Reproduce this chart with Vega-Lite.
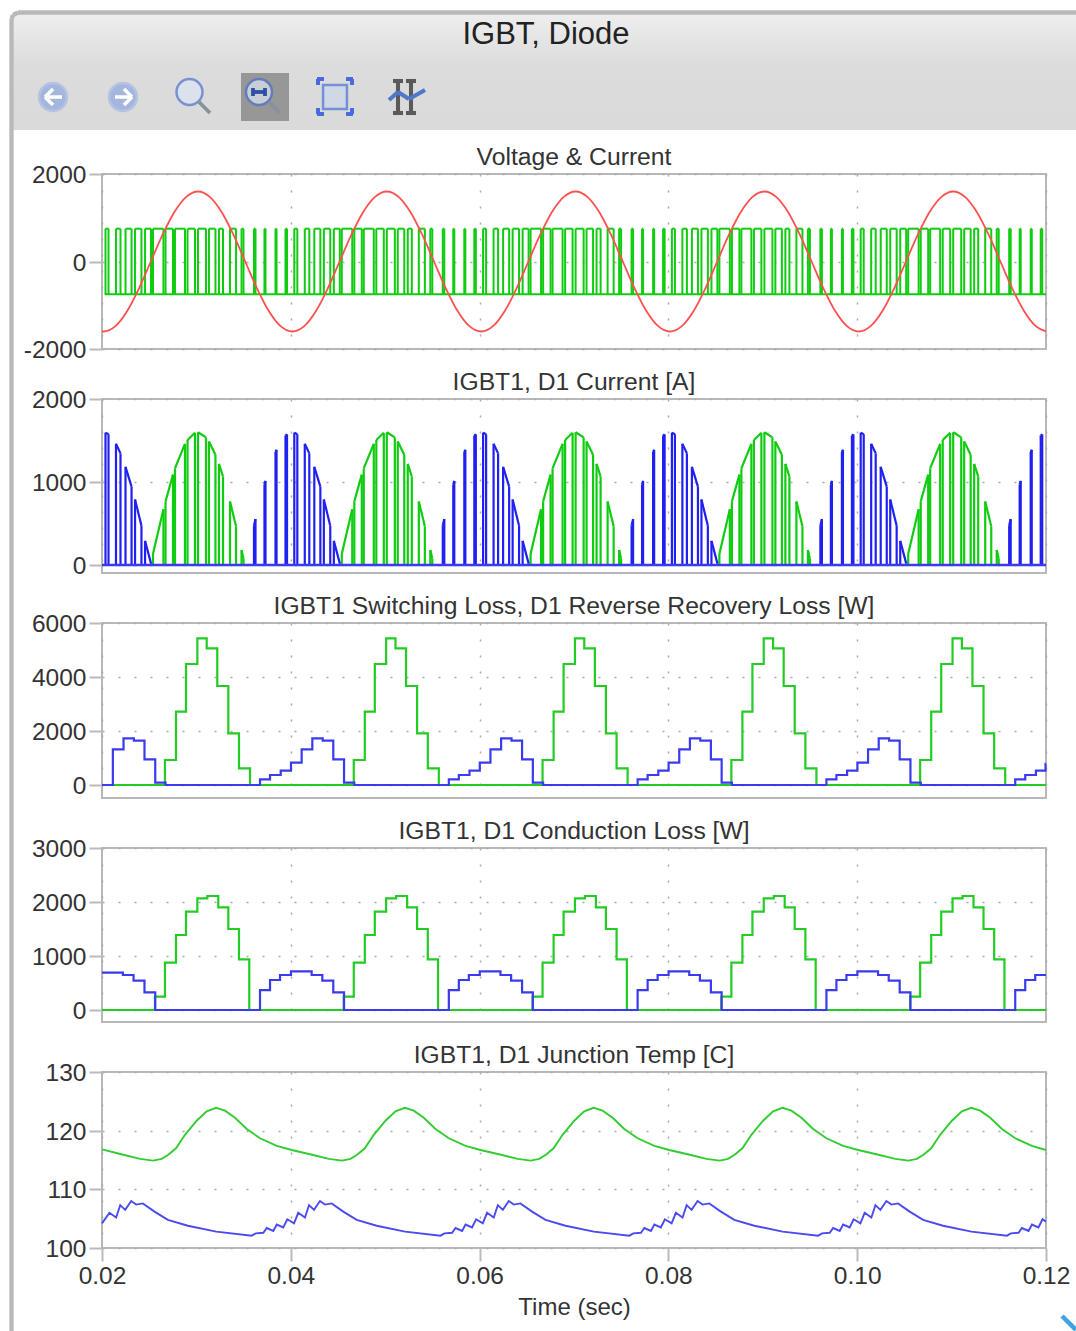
{
"$schema":"https://vega.github.io/schema/vega-lite/v6.json",
"background":"white",
"padding":{"left":9,"top":10,"right":0,"bottom":0},
"bounds":"flush",
"spacing":50,
"resolve":{"scale":{"color":"independent"}},
"config":{
 "font":"Liberation Sans",
 "view":{"stroke":"#b8b8b8","strokeWidth":2},
 "title":{"fontSize":24.7,"fontWeight":"normal","color":"#333333","anchor":"middle","offset":-7,"font":"Liberation Sans"},
 "axis":{"grid":true,"gridColor":"#aaaaaa","gridDash":[2,14],"gridWidth":1.5,"domain":false,"tickColor":"#bbbbbb","tickWidth":2,"tickSize":13,"labelFontSize":24.5,"labelColor":"#333333","labelFont":"Liberation Sans","titleFontSize":24,"titleFontWeight":"normal","titleColor":"#333333","titleFont":"Liberation Sans","labelPadding":3},
 "axisY":{"labelOffset":1.5}
},
"datasets":{
"pulses":[
{"a":0.02037,"b":0.02069,"u":1595,"w":1576,"s":"D","l":-750,"h":750,"z":0},{"a":0.02148,"b":0.02196,"u":1460,"w":1345,"s":"D","l":-750,"h":750,"z":0},{"a":0.02249,"b":0.02313,"u":1183,"w":945,"s":"D","l":-750,"h":750,"z":0},{"a":0.0235,"b":0.02418,"u":789,"w":473,"s":"D","l":-750,"h":750,"z":0},{"a":0.02456,"b":0.02519,"u":291,"w":20,"s":"D","l":-750,"h":750,"z":0},
{"a":0.0254,"b":0.02651,"u":133,"w":671,"s":"I","l":-750,"h":750,"z":0},{"a":0.02673,"b":0.02752,"u":766,"w":1089,"s":"I","l":-750,"h":750,"z":0},{"a":0.02773,"b":0.02879,"u":1164,"w":1460,"s":"I","l":-750,"h":750,"z":0},{"a":0.02906,"b":0.02985,"u":1507,"w":1593,"s":"I","l":-750,"h":750,"z":0},{"a":0.03017,"b":0.03102,"u":1600,"w":1537,"s":"I","l":-750,"h":750,"z":0},{"a":0.03133,"b":0.03202,"u":1489,"w":1329,"s":"I","l":-750,"h":750,"z":0},{"a":0.03239,"b":0.03282,"u":1218,"w":1066,"s":"I","l":-750,"h":750,"z":0},{"a":0.03356,"b":0.0342,"u":765,"w":466,"s":"I","l":-750,"h":750,"z":0},{"a":0.03478,"b":0.03499,"u":181,"w":75,"s":"I","l":-750,"h":750,"z":0},
{"a":0.0361,"b":0.03626,"u":477,"w":553,"s":"D","l":-750,"h":750,"z":0},{"a":0.03721,"b":0.03732,"u":971,"w":1013,"s":"D","l":-750,"h":750,"z":0},{"a":0.03838,"b":0.03849,"u":1362,"w":1388,"s":"D","l":-750,"h":750,"z":0},{"a":0.03944,"b":0.0396,"u":1562,"w":1574,"s":"D","l":-750,"h":750,"z":0},
{"a":0.04037,"b":0.04069,"u":1595,"w":1576,"s":"D","l":-750,"h":750,"z":0},{"a":0.04148,"b":0.04196,"u":1460,"w":1345,"s":"D","l":-750,"h":750,"z":0},{"a":0.04249,"b":0.04313,"u":1183,"w":945,"s":"D","l":-750,"h":750,"z":0},{"a":0.0435,"b":0.04418,"u":789,"w":473,"s":"D","l":-750,"h":750,"z":0},{"a":0.04456,"b":0.04519,"u":291,"w":20,"s":"D","l":-750,"h":750,"z":0},
{"a":0.0454,"b":0.04651,"u":133,"w":671,"s":"I","l":-750,"h":750,"z":0},{"a":0.04673,"b":0.04752,"u":766,"w":1089,"s":"I","l":-750,"h":750,"z":0},{"a":0.04773,"b":0.04879,"u":1164,"w":1460,"s":"I","l":-750,"h":750,"z":0},{"a":0.04906,"b":0.04985,"u":1507,"w":1593,"s":"I","l":-750,"h":750,"z":0},{"a":0.05017,"b":0.05102,"u":1600,"w":1537,"s":"I","l":-750,"h":750,"z":0},{"a":0.05133,"b":0.05202,"u":1489,"w":1329,"s":"I","l":-750,"h":750,"z":0},{"a":0.05239,"b":0.05282,"u":1218,"w":1066,"s":"I","l":-750,"h":750,"z":0},{"a":0.05356,"b":0.0542,"u":765,"w":466,"s":"I","l":-750,"h":750,"z":0},{"a":0.05478,"b":0.05499,"u":181,"w":75,"s":"I","l":-750,"h":750,"z":0},
{"a":0.0561,"b":0.05626,"u":477,"w":553,"s":"D","l":-750,"h":750,"z":0},{"a":0.05721,"b":0.05732,"u":971,"w":1013,"s":"D","l":-750,"h":750,"z":0},{"a":0.05838,"b":0.05849,"u":1362,"w":1388,"s":"D","l":-750,"h":750,"z":0},{"a":0.05944,"b":0.0596,"u":1562,"w":1574,"s":"D","l":-750,"h":750,"z":0},
{"a":0.06037,"b":0.06069,"u":1595,"w":1576,"s":"D","l":-750,"h":750,"z":0},{"a":0.06148,"b":0.06196,"u":1460,"w":1345,"s":"D","l":-750,"h":750,"z":0},{"a":0.06249,"b":0.06313,"u":1183,"w":945,"s":"D","l":-750,"h":750,"z":0},{"a":0.0635,"b":0.06418,"u":789,"w":473,"s":"D","l":-750,"h":750,"z":0},{"a":0.06456,"b":0.06519,"u":291,"w":20,"s":"D","l":-750,"h":750,"z":0},
{"a":0.0654,"b":0.06651,"u":133,"w":671,"s":"I","l":-750,"h":750,"z":0},{"a":0.06673,"b":0.06752,"u":766,"w":1089,"s":"I","l":-750,"h":750,"z":0},{"a":0.06773,"b":0.06879,"u":1164,"w":1460,"s":"I","l":-750,"h":750,"z":0},{"a":0.06906,"b":0.06985,"u":1507,"w":1593,"s":"I","l":-750,"h":750,"z":0},{"a":0.07017,"b":0.07102,"u":1600,"w":1537,"s":"I","l":-750,"h":750,"z":0},{"a":0.07133,"b":0.07202,"u":1489,"w":1329,"s":"I","l":-750,"h":750,"z":0},{"a":0.07239,"b":0.07282,"u":1218,"w":1066,"s":"I","l":-750,"h":750,"z":0},{"a":0.07356,"b":0.0742,"u":765,"w":466,"s":"I","l":-750,"h":750,"z":0},{"a":0.07478,"b":0.07499,"u":181,"w":75,"s":"I","l":-750,"h":750,"z":0},
{"a":0.0761,"b":0.07626,"u":477,"w":553,"s":"D","l":-750,"h":750,"z":0},{"a":0.07721,"b":0.07732,"u":971,"w":1013,"s":"D","l":-750,"h":750,"z":0},{"a":0.07838,"b":0.07849,"u":1362,"w":1388,"s":"D","l":-750,"h":750,"z":0},{"a":0.07944,"b":0.0796,"u":1562,"w":1574,"s":"D","l":-750,"h":750,"z":0},
{"a":0.08037,"b":0.08069,"u":1595,"w":1576,"s":"D","l":-750,"h":750,"z":0},{"a":0.08148,"b":0.08196,"u":1460,"w":1345,"s":"D","l":-750,"h":750,"z":0},{"a":0.08249,"b":0.08313,"u":1183,"w":945,"s":"D","l":-750,"h":750,"z":0},{"a":0.0835,"b":0.08418,"u":789,"w":473,"s":"D","l":-750,"h":750,"z":0},{"a":0.08456,"b":0.08519,"u":291,"w":20,"s":"D","l":-750,"h":750,"z":0},
{"a":0.0854,"b":0.08651,"u":133,"w":671,"s":"I","l":-750,"h":750,"z":0},{"a":0.08673,"b":0.08752,"u":766,"w":1089,"s":"I","l":-750,"h":750,"z":0},{"a":0.08773,"b":0.08879,"u":1164,"w":1460,"s":"I","l":-750,"h":750,"z":0},{"a":0.08906,"b":0.08985,"u":1507,"w":1593,"s":"I","l":-750,"h":750,"z":0},{"a":0.09017,"b":0.09102,"u":1600,"w":1537,"s":"I","l":-750,"h":750,"z":0},{"a":0.09133,"b":0.09202,"u":1489,"w":1329,"s":"I","l":-750,"h":750,"z":0},{"a":0.09239,"b":0.09282,"u":1218,"w":1066,"s":"I","l":-750,"h":750,"z":0},{"a":0.09356,"b":0.0942,"u":765,"w":466,"s":"I","l":-750,"h":750,"z":0},{"a":0.09478,"b":0.09499,"u":181,"w":75,"s":"I","l":-750,"h":750,"z":0},
{"a":0.0961,"b":0.09626,"u":477,"w":553,"s":"D","l":-750,"h":750,"z":0},{"a":0.09721,"b":0.09732,"u":971,"w":1013,"s":"D","l":-750,"h":750,"z":0},{"a":0.09838,"b":0.09849,"u":1362,"w":1388,"s":"D","l":-750,"h":750,"z":0},{"a":0.09944,"b":0.0996,"u":1562,"w":1574,"s":"D","l":-750,"h":750,"z":0},
{"a":0.10037,"b":0.10069,"u":1595,"w":1576,"s":"D","l":-750,"h":750,"z":0},{"a":0.10148,"b":0.10196,"u":1460,"w":1345,"s":"D","l":-750,"h":750,"z":0},{"a":0.10249,"b":0.10313,"u":1183,"w":945,"s":"D","l":-750,"h":750,"z":0},{"a":0.1035,"b":0.10418,"u":789,"w":473,"s":"D","l":-750,"h":750,"z":0},{"a":0.10456,"b":0.10519,"u":291,"w":20,"s":"D","l":-750,"h":750,"z":0},
{"a":0.1054,"b":0.10651,"u":133,"w":671,"s":"I","l":-750,"h":750,"z":0},{"a":0.10673,"b":0.10752,"u":766,"w":1089,"s":"I","l":-750,"h":750,"z":0},{"a":0.10773,"b":0.10879,"u":1164,"w":1460,"s":"I","l":-750,"h":750,"z":0},{"a":0.10906,"b":0.10985,"u":1507,"w":1593,"s":"I","l":-750,"h":750,"z":0},{"a":0.11017,"b":0.11102,"u":1600,"w":1537,"s":"I","l":-750,"h":750,"z":0},{"a":0.11133,"b":0.11202,"u":1489,"w":1329,"s":"I","l":-750,"h":750,"z":0},{"a":0.11239,"b":0.11282,"u":1218,"w":1066,"s":"I","l":-750,"h":750,"z":0},{"a":0.11356,"b":0.1142,"u":765,"w":466,"s":"I","l":-750,"h":750,"z":0},{"a":0.11478,"b":0.11499,"u":181,"w":75,"s":"I","l":-750,"h":750,"z":0},
{"a":0.1161,"b":0.11626,"u":477,"w":553,"s":"D","l":-750,"h":750,"z":0},{"a":0.11721,"b":0.11732,"u":971,"w":1013,"s":"D","l":-750,"h":750,"z":0},{"a":0.11838,"b":0.11849,"u":1362,"w":1388,"s":"D","l":-750,"h":750,"z":0},{"a":0.11944,"b":0.1196,"u":1562,"w":1574,"s":"D","l":-750,"h":750,"z":0}
],
"current":[
{"t":0.02,"v":-1598},{"t":0.02017,"v":-1600},{"t":0.02142,"v":-1478},{"t":0.02267,"v":-1131},{"t":0.02392,"v":-612},{"t":0.02517,"v":0},{"t":0.02642,"v":612},{"t":0.02767,"v":1131},{"t":0.02892,"v":1478},{"t":0.03017,"v":1600},{"t":0.03142,"v":1478},{"t":0.03267,"v":1131},{"t":0.03392,"v":612},{"t":0.03517,"v":0},{"t":0.03642,"v":-612},{"t":0.03767,"v":-1131},{"t":0.03892,"v":-1478},
{"t":0.04017,"v":-1600},{"t":0.04142,"v":-1478},{"t":0.04267,"v":-1131},{"t":0.04392,"v":-612},{"t":0.04517,"v":0},{"t":0.04642,"v":612},{"t":0.04767,"v":1131},{"t":0.04892,"v":1478},{"t":0.05017,"v":1600},{"t":0.05142,"v":1478},{"t":0.05267,"v":1131},{"t":0.05392,"v":612},{"t":0.05517,"v":0},{"t":0.05642,"v":-612},{"t":0.05767,"v":-1131},{"t":0.05892,"v":-1478},
{"t":0.06017,"v":-1600},{"t":0.06142,"v":-1478},{"t":0.06267,"v":-1131},{"t":0.06392,"v":-612},{"t":0.06517,"v":0},{"t":0.06642,"v":612},{"t":0.06767,"v":1131},{"t":0.06892,"v":1478},{"t":0.07017,"v":1600},{"t":0.07142,"v":1478},{"t":0.07267,"v":1131},{"t":0.07392,"v":612},{"t":0.07517,"v":0},{"t":0.07642,"v":-612},{"t":0.07767,"v":-1131},{"t":0.07892,"v":-1478},
{"t":0.08017,"v":-1600},{"t":0.08142,"v":-1478},{"t":0.08267,"v":-1131},{"t":0.08392,"v":-612},{"t":0.08517,"v":0},{"t":0.08642,"v":612},{"t":0.08767,"v":1131},{"t":0.08892,"v":1478},{"t":0.09017,"v":1600},{"t":0.09142,"v":1478},{"t":0.09267,"v":1131},{"t":0.09392,"v":612},{"t":0.09517,"v":0},{"t":0.09642,"v":-612},{"t":0.09767,"v":-1131},{"t":0.09892,"v":-1478},
{"t":0.10017,"v":-1600},{"t":0.10142,"v":-1478},{"t":0.10267,"v":-1131},{"t":0.10392,"v":-612},{"t":0.10517,"v":0},{"t":0.10642,"v":612},{"t":0.10767,"v":1131},{"t":0.10892,"v":1478},{"t":0.11017,"v":1600},{"t":0.11142,"v":1478},{"t":0.11267,"v":1131},{"t":0.11392,"v":612},{"t":0.11517,"v":0},{"t":0.11642,"v":-612},{"t":0.11767,"v":-1131},{"t":0.11892,"v":-1478},{"t":0.12,"v":-1598}
],
"switching":[
{"t":0.02,"v":0,"s":"I"},{"t":0.02667,"v":926,"s":"I"},{"t":0.02784,"v":2716,"s":"I"},{"t":0.0289,"v":4481,"s":"I"},{"t":0.0301,"v":5432,"s":"I"},{"t":0.03109,"v":5062,"s":"I"},{"t":0.03221,"v":3667,"s":"I"},{"t":0.03338,"v":1914,"s":"I"},{"t":0.03451,"v":617,"s":"I"},{"t":0.03568,"v":0,"s":"I"},
{"t":0.04667,"v":926,"s":"I"},{"t":0.04784,"v":2716,"s":"I"},{"t":0.0489,"v":4481,"s":"I"},{"t":0.0501,"v":5432,"s":"I"},{"t":0.05109,"v":5062,"s":"I"},{"t":0.05221,"v":3667,"s":"I"},{"t":0.05338,"v":1914,"s":"I"},{"t":0.05451,"v":617,"s":"I"},{"t":0.05568,"v":0,"s":"I"},
{"t":0.06667,"v":926,"s":"I"},{"t":0.06784,"v":2716,"s":"I"},{"t":0.0689,"v":4481,"s":"I"},{"t":0.0701,"v":5432,"s":"I"},{"t":0.07109,"v":5062,"s":"I"},{"t":0.07221,"v":3667,"s":"I"},{"t":0.07338,"v":1914,"s":"I"},{"t":0.07451,"v":617,"s":"I"},{"t":0.07568,"v":0,"s":"I"},
{"t":0.08667,"v":926,"s":"I"},{"t":0.08784,"v":2716,"s":"I"},{"t":0.0889,"v":4481,"s":"I"},{"t":0.0901,"v":5432,"s":"I"},{"t":0.09109,"v":5062,"s":"I"},{"t":0.09221,"v":3667,"s":"I"},{"t":0.09338,"v":1914,"s":"I"},{"t":0.09451,"v":617,"s":"I"},{"t":0.09568,"v":0,"s":"I"},
{"t":0.10667,"v":926,"s":"I"},{"t":0.10784,"v":2716,"s":"I"},{"t":0.1089,"v":4481,"s":"I"},{"t":0.1101,"v":5432,"s":"I"},{"t":0.11109,"v":5062,"s":"I"},{"t":0.11221,"v":3667,"s":"I"},{"t":0.11338,"v":1914,"s":"I"},{"t":0.11451,"v":617,"s":"I"},{"t":0.11568,"v":0,"s":"I"},{"t":0.12,"v":0,"s":"I"},
{"t":0.02,"v":0,"s":"D"},{"t":0.02115,"v":1321,"s":"D"},{"t":0.02228,"v":1728,"s":"D"},{"t":0.02338,"v":1642,"s":"D"},{"t":0.0245,"v":950,"s":"D"},{"t":0.02564,"v":86,"s":"D"},{"t":0.02673,"v":0,"s":"D"},
{"t":0.03674,"v":210,"s":"D"},{"t":0.0378,"v":370,"s":"D"},{"t":0.03893,"v":530,"s":"D"},{"t":0.04002,"v":827,"s":"D"},{"t":0.04115,"v":1321,"s":"D"},{"t":0.04228,"v":1728,"s":"D"},{"t":0.04338,"v":1642,"s":"D"},{"t":0.0445,"v":950,"s":"D"},{"t":0.04564,"v":86,"s":"D"},{"t":0.04673,"v":0,"s":"D"},
{"t":0.05674,"v":210,"s":"D"},{"t":0.0578,"v":370,"s":"D"},{"t":0.05893,"v":530,"s":"D"},{"t":0.06002,"v":827,"s":"D"},{"t":0.06115,"v":1321,"s":"D"},{"t":0.06228,"v":1728,"s":"D"},{"t":0.06338,"v":1642,"s":"D"},{"t":0.0645,"v":950,"s":"D"},{"t":0.06564,"v":86,"s":"D"},{"t":0.06673,"v":0,"s":"D"},
{"t":0.07674,"v":210,"s":"D"},{"t":0.0778,"v":370,"s":"D"},{"t":0.07893,"v":530,"s":"D"},{"t":0.08002,"v":827,"s":"D"},{"t":0.08115,"v":1321,"s":"D"},{"t":0.08228,"v":1728,"s":"D"},{"t":0.08338,"v":1642,"s":"D"},{"t":0.0845,"v":950,"s":"D"},{"t":0.08564,"v":86,"s":"D"},{"t":0.08673,"v":0,"s":"D"},
{"t":0.09674,"v":210,"s":"D"},{"t":0.0978,"v":370,"s":"D"},{"t":0.09893,"v":530,"s":"D"},{"t":0.10002,"v":827,"s":"D"},{"t":0.10115,"v":1321,"s":"D"},{"t":0.10228,"v":1728,"s":"D"},{"t":0.10338,"v":1642,"s":"D"},{"t":0.1045,"v":950,"s":"D"},{"t":0.10564,"v":86,"s":"D"},{"t":0.10673,"v":0,"s":"D"},
{"t":0.11674,"v":210,"s":"D"},{"t":0.1178,"v":370,"s":"D"},{"t":0.11893,"v":530,"s":"D"},{"t":0.11995,"v":780,"s":"D"},{"t":0.12,"v":780,"s":"D"}
],
"conduction":[
{"t":0.02,"v":0,"s":"I"},{"t":0.02561,"v":247,"s":"I"},{"t":0.02667,"v":877,"s":"I"},{"t":0.02784,"v":1389,"s":"I"},{"t":0.0289,"v":1821,"s":"I"},{"t":0.0301,"v":2068,"s":"I"},{"t":0.03116,"v":2111,"s":"I"},{"t":0.03232,"v":1901,"s":"I"},{"t":0.03338,"v":1500,"s":"I"},{"t":0.03451,"v":938,"s":"I"},{"t":0.0356,"v":0,"s":"I"},
{"t":0.04561,"v":247,"s":"I"},{"t":0.04667,"v":877,"s":"I"},{"t":0.04784,"v":1389,"s":"I"},{"t":0.0489,"v":1821,"s":"I"},{"t":0.0501,"v":2068,"s":"I"},{"t":0.05116,"v":2111,"s":"I"},{"t":0.05232,"v":1901,"s":"I"},{"t":0.05338,"v":1500,"s":"I"},{"t":0.05451,"v":938,"s":"I"},{"t":0.0556,"v":0,"s":"I"},
{"t":0.06561,"v":247,"s":"I"},{"t":0.06667,"v":877,"s":"I"},{"t":0.06784,"v":1389,"s":"I"},{"t":0.0689,"v":1821,"s":"I"},{"t":0.0701,"v":2068,"s":"I"},{"t":0.07116,"v":2111,"s":"I"},{"t":0.07232,"v":1901,"s":"I"},{"t":0.07338,"v":1500,"s":"I"},{"t":0.07451,"v":938,"s":"I"},{"t":0.0756,"v":0,"s":"I"},
{"t":0.08561,"v":247,"s":"I"},{"t":0.08667,"v":877,"s":"I"},{"t":0.08784,"v":1389,"s":"I"},{"t":0.0889,"v":1821,"s":"I"},{"t":0.0901,"v":2068,"s":"I"},{"t":0.09116,"v":2111,"s":"I"},{"t":0.09232,"v":1901,"s":"I"},{"t":0.09338,"v":1500,"s":"I"},{"t":0.09451,"v":938,"s":"I"},{"t":0.0956,"v":0,"s":"I"},
{"t":0.10561,"v":247,"s":"I"},{"t":0.10667,"v":877,"s":"I"},{"t":0.10784,"v":1389,"s":"I"},{"t":0.1089,"v":1821,"s":"I"},{"t":0.1101,"v":2068,"s":"I"},{"t":0.11116,"v":2111,"s":"I"},{"t":0.11232,"v":1901,"s":"I"},{"t":0.11338,"v":1500,"s":"I"},{"t":0.11451,"v":938,"s":"I"},{"t":0.1156,"v":0,"s":"I"},{"t":0.12,"v":0,"s":"I"},
{"t":0.02,"v":691,"s":"D"},{"t":0.02221,"v":648,"s":"D"},{"t":0.02334,"v":543,"s":"D"},{"t":0.0245,"v":327,"s":"D"},{"t":0.02564,"v":0,"s":"D"},
{"t":0.03674,"v":370,"s":"D"},{"t":0.0378,"v":556,"s":"D"},{"t":0.03886,"v":648,"s":"D"},{"t":0.04002,"v":716,"s":"D"},{"t":0.04221,"v":648,"s":"D"},{"t":0.04334,"v":543,"s":"D"},{"t":0.0445,"v":327,"s":"D"},{"t":0.04564,"v":0,"s":"D"},
{"t":0.05674,"v":370,"s":"D"},{"t":0.0578,"v":556,"s":"D"},{"t":0.05886,"v":648,"s":"D"},{"t":0.06002,"v":716,"s":"D"},{"t":0.06221,"v":648,"s":"D"},{"t":0.06334,"v":543,"s":"D"},{"t":0.0645,"v":327,"s":"D"},{"t":0.06564,"v":0,"s":"D"},
{"t":0.07674,"v":370,"s":"D"},{"t":0.0778,"v":556,"s":"D"},{"t":0.07886,"v":648,"s":"D"},{"t":0.08002,"v":716,"s":"D"},{"t":0.08221,"v":648,"s":"D"},{"t":0.08334,"v":543,"s":"D"},{"t":0.0845,"v":327,"s":"D"},{"t":0.08564,"v":0,"s":"D"},
{"t":0.09674,"v":370,"s":"D"},{"t":0.0978,"v":556,"s":"D"},{"t":0.09886,"v":648,"s":"D"},{"t":0.10002,"v":716,"s":"D"},{"t":0.10221,"v":648,"s":"D"},{"t":0.10334,"v":543,"s":"D"},{"t":0.1045,"v":327,"s":"D"},{"t":0.10564,"v":0,"s":"D"},
{"t":0.11674,"v":370,"s":"D"},{"t":0.1178,"v":556,"s":"D"},{"t":0.11886,"v":648,"s":"D"},{"t":0.12,"v":648,"s":"D"}
],
"temp":[
{"t":0.02,"v":116.8,"s":"I"},{"t":0.02226,"v":115.9,"s":"I"},{"t":0.02403,"v":115.2,"s":"I"},{"t":0.02543,"v":114.9,"s":"I"},{"t":0.02632,"v":115.2,"s":"I"},{"t":0.02702,"v":115.9,"s":"I"},{"t":0.02784,"v":117.0,"s":"I"},{"t":0.02879,"v":119.3,"s":"I"},{"t":0.03003,"v":121.7,"s":"I"},{"t":0.03109,"v":123.3,"s":"I"},{"t":0.03208,"v":123.9,"s":"I"},{"t":0.03303,"v":123.4,"s":"I"},{"t":0.03409,"v":122.2,"s":"I"},{"t":0.03533,"v":120.3,"s":"I"},{"t":0.03674,"v":118.7,"s":"I"},{"t":0.03851,"v":117.4,"s":"I"},
{"t":0.0401,"v":116.7,"s":"I"},{"t":0.04226,"v":115.9,"s":"I"},{"t":0.04403,"v":115.2,"s":"I"},{"t":0.04543,"v":114.9,"s":"I"},{"t":0.04632,"v":115.2,"s":"I"},{"t":0.04702,"v":115.9,"s":"I"},{"t":0.04784,"v":117.0,"s":"I"},{"t":0.04879,"v":119.3,"s":"I"},{"t":0.05003,"v":121.7,"s":"I"},{"t":0.05109,"v":123.3,"s":"I"},{"t":0.05208,"v":123.9,"s":"I"},{"t":0.05303,"v":123.4,"s":"I"},{"t":0.05409,"v":122.2,"s":"I"},{"t":0.05533,"v":120.3,"s":"I"},{"t":0.05674,"v":118.7,"s":"I"},{"t":0.05851,"v":117.4,"s":"I"},
{"t":0.0601,"v":116.7,"s":"I"},{"t":0.06226,"v":115.9,"s":"I"},{"t":0.06403,"v":115.2,"s":"I"},{"t":0.06543,"v":114.9,"s":"I"},{"t":0.06632,"v":115.2,"s":"I"},{"t":0.06702,"v":115.9,"s":"I"},{"t":0.06784,"v":117.0,"s":"I"},{"t":0.06879,"v":119.3,"s":"I"},{"t":0.07003,"v":121.7,"s":"I"},{"t":0.07109,"v":123.3,"s":"I"},{"t":0.07208,"v":123.9,"s":"I"},{"t":0.07303,"v":123.4,"s":"I"},{"t":0.07409,"v":122.2,"s":"I"},{"t":0.07533,"v":120.3,"s":"I"},{"t":0.07674,"v":118.7,"s":"I"},{"t":0.07851,"v":117.4,"s":"I"},
{"t":0.0801,"v":116.7,"s":"I"},{"t":0.08226,"v":115.9,"s":"I"},{"t":0.08403,"v":115.2,"s":"I"},{"t":0.08543,"v":114.9,"s":"I"},{"t":0.08632,"v":115.2,"s":"I"},{"t":0.08702,"v":115.9,"s":"I"},{"t":0.08784,"v":117.0,"s":"I"},{"t":0.08879,"v":119.3,"s":"I"},{"t":0.09003,"v":121.7,"s":"I"},{"t":0.09109,"v":123.3,"s":"I"},{"t":0.09208,"v":123.9,"s":"I"},{"t":0.09303,"v":123.4,"s":"I"},{"t":0.09409,"v":122.2,"s":"I"},{"t":0.09533,"v":120.3,"s":"I"},{"t":0.09674,"v":118.7,"s":"I"},{"t":0.09851,"v":117.4,"s":"I"},
{"t":0.1001,"v":116.7,"s":"I"},{"t":0.10226,"v":115.9,"s":"I"},{"t":0.10403,"v":115.2,"s":"I"},{"t":0.10543,"v":114.9,"s":"I"},{"t":0.10632,"v":115.2,"s":"I"},{"t":0.10702,"v":115.9,"s":"I"},{"t":0.10784,"v":117.0,"s":"I"},{"t":0.10879,"v":119.3,"s":"I"},{"t":0.11003,"v":121.7,"s":"I"},{"t":0.11109,"v":123.3,"s":"I"},{"t":0.11208,"v":123.9,"s":"I"},{"t":0.11303,"v":123.4,"s":"I"},{"t":0.11409,"v":122.2,"s":"I"},{"t":0.11533,"v":120.3,"s":"I"},{"t":0.11674,"v":118.7,"s":"I"},{"t":0.11851,"v":117.4,"s":"I"},{"t":0.12,"v":116.7,"s":"I"},
{"t":0.02,"v":104.2,"s":"D"},{"t":0.02079,"v":106.0,"s":"D"},{"t":0.0215,"v":105.2,"s":"D"},{"t":0.02193,"v":107.3,"s":"D"},{"t":0.02246,"v":106.5,"s":"D"},{"t":0.02309,"v":108.0,"s":"D"},{"t":0.02362,"v":107.4,"s":"D"},{"t":0.02433,"v":107.6,"s":"D"},{"t":0.02556,"v":106.2,"s":"D"},{"t":0.02698,"v":104.8,"s":"D"},{"t":0.0291,"v":103.8,"s":"D"},{"t":0.0321,"v":102.8,"s":"D"},
{"t":0.03586,"v":102.1,"s":"D"},{"t":0.03628,"v":102.5,"s":"D"},{"t":0.03709,"v":102.6,"s":"D"},{"t":0.03745,"v":103.4,"s":"D"},{"t":0.03815,"v":102.9,"s":"D"},{"t":0.03851,"v":104.0,"s":"D"},{"t":0.0392,"v":103.5,"s":"D"},{"t":0.03963,"v":104.9,"s":"D"},{"t":0.04034,"v":104.2,"s":"D"},{"t":0.04079,"v":106.0,"s":"D"},{"t":0.0415,"v":105.2,"s":"D"},{"t":0.04193,"v":107.3,"s":"D"},{"t":0.04246,"v":106.5,"s":"D"},{"t":0.04309,"v":108.0,"s":"D"},{"t":0.04362,"v":107.4,"s":"D"},{"t":0.04433,"v":107.6,"s":"D"},{"t":0.04556,"v":106.2,"s":"D"},{"t":0.04698,"v":104.8,"s":"D"},{"t":0.0491,"v":103.8,"s":"D"},{"t":0.0521,"v":102.8,"s":"D"},
{"t":0.05586,"v":102.1,"s":"D"},{"t":0.05628,"v":102.5,"s":"D"},{"t":0.05709,"v":102.6,"s":"D"},{"t":0.05745,"v":103.4,"s":"D"},{"t":0.05815,"v":102.9,"s":"D"},{"t":0.05851,"v":104.0,"s":"D"},{"t":0.0592,"v":103.5,"s":"D"},{"t":0.05963,"v":104.9,"s":"D"},{"t":0.06034,"v":104.2,"s":"D"},{"t":0.06079,"v":106.0,"s":"D"},{"t":0.0615,"v":105.2,"s":"D"},{"t":0.06193,"v":107.3,"s":"D"},{"t":0.06246,"v":106.5,"s":"D"},{"t":0.06309,"v":108.0,"s":"D"},{"t":0.06362,"v":107.4,"s":"D"},{"t":0.06433,"v":107.6,"s":"D"},{"t":0.06556,"v":106.2,"s":"D"},{"t":0.06698,"v":104.8,"s":"D"},{"t":0.0691,"v":103.8,"s":"D"},{"t":0.0721,"v":102.8,"s":"D"},
{"t":0.07586,"v":102.1,"s":"D"},{"t":0.07628,"v":102.5,"s":"D"},{"t":0.07709,"v":102.6,"s":"D"},{"t":0.07745,"v":103.4,"s":"D"},{"t":0.07815,"v":102.9,"s":"D"},{"t":0.07851,"v":104.0,"s":"D"},{"t":0.0792,"v":103.5,"s":"D"},{"t":0.07963,"v":104.9,"s":"D"},{"t":0.08034,"v":104.2,"s":"D"},{"t":0.08079,"v":106.0,"s":"D"},{"t":0.0815,"v":105.2,"s":"D"},{"t":0.08193,"v":107.3,"s":"D"},{"t":0.08246,"v":106.5,"s":"D"},{"t":0.08309,"v":108.0,"s":"D"},{"t":0.08362,"v":107.4,"s":"D"},{"t":0.08433,"v":107.6,"s":"D"},{"t":0.08556,"v":106.2,"s":"D"},{"t":0.08698,"v":104.8,"s":"D"},{"t":0.0891,"v":103.8,"s":"D"},{"t":0.0921,"v":102.8,"s":"D"},
{"t":0.09586,"v":102.1,"s":"D"},{"t":0.09628,"v":102.5,"s":"D"},{"t":0.09709,"v":102.6,"s":"D"},{"t":0.09745,"v":103.4,"s":"D"},{"t":0.09815,"v":102.9,"s":"D"},{"t":0.09851,"v":104.0,"s":"D"},{"t":0.0992,"v":103.5,"s":"D"},{"t":0.09963,"v":104.9,"s":"D"},{"t":0.10034,"v":104.2,"s":"D"},{"t":0.10079,"v":106.0,"s":"D"},{"t":0.1015,"v":105.2,"s":"D"},{"t":0.10193,"v":107.3,"s":"D"},{"t":0.10246,"v":106.5,"s":"D"},{"t":0.10309,"v":108.0,"s":"D"},{"t":0.10362,"v":107.4,"s":"D"},{"t":0.10433,"v":107.6,"s":"D"},{"t":0.10556,"v":106.2,"s":"D"},{"t":0.10698,"v":104.8,"s":"D"},{"t":0.1091,"v":103.8,"s":"D"},{"t":0.1121,"v":102.8,"s":"D"},
{"t":0.11586,"v":102.1,"s":"D"},{"t":0.11628,"v":102.5,"s":"D"},{"t":0.11709,"v":102.6,"s":"D"},{"t":0.11745,"v":103.4,"s":"D"},{"t":0.11815,"v":102.9,"s":"D"},{"t":0.11851,"v":104.0,"s":"D"},{"t":0.1192,"v":103.5,"s":"D"},{"t":0.11963,"v":104.9,"s":"D"},{"t":0.12,"v":104.5,"s":"D"}
]
},
"vconcat":[
{"width":944,"height":112,"view":{"stroke":null},
 "encoding":{"x":{"field":"x","type":"quantitative","scale":{"domain":[102,1046],"nice":false},"axis":null},"y":{"field":"y","type":"quantitative","scale":{"domain":[124,12],"nice":false},"axis":null}},
 "layer":[
 {"data":{"values":[{"x":12,"x2":1076,"y":13,"y2":130}]},
  "mark":{"type":"rect","cornerRadiusTopLeft":7,"fill":{"gradient":"linear","x1":0,"y1":0,"x2":0,"y2":1,"stops":[{"offset":0,"color":"#eeeeee"},{"offset":0.45,"color":"#dcdcdc"},{"offset":1,"color":"#dadada"}]}},
  "encoding":{"x2":{"field":"x2"},"y2":{"field":"y2"}}},
 {"data":{"values":[{"x":241,"x2":289,"y":73,"y2":121}]},"mark":{"type":"rect","color":"#979797"},"encoding":{"x2":{"field":"x2"},"y2":{"field":"y2"}}},
 {"data":{"values":[{"x":53,"y":97,"p":"nav"},{"x":123,"y":97,"p":"nav"},{"x":189.5,"y":92,"p":"lens"},{"x":259,"y":92,"p":"lens"},{"x":335,"y":97,"p":"box"}]},
  "mark":{"type":"point","filled":false,"strokeWidth":2.5},
  "encoding":{"shape":{"field":"p","type":"nominal","scale":{"domain":["nav","lens","box"],"range":["circle","circle","square"]},"legend":null},
   "size":{"field":"p","type":"nominal","scale":{"domain":["nav","lens","box"],"range":[780,570,640]},"legend":null},
   "fill":{"field":"p","type":"nominal","scale":{"domain":["nav","lens","box"],"range":["#8ea7de","#dce6f4","#cbd8ea"]},"legend":null},
   "stroke":{"field":"p","type":"nominal","scale":{"domain":["nav","lens","box"],"range":["#a6b9e6","#4f72cf","#4a6fd8"]},"legend":null},
   "fillOpacity":{"value":1}}},
 {"data":{"values":[
  {"x":45,"y":97,"x2":62,"y2":97,"p":"arrow"},{"x":45,"y":97,"x2":53,"y2":89,"p":"arrow"},{"x":45,"y":97,"x2":53,"y2":105,"p":"arrow"},
  {"x":115,"y":97,"x2":132,"y2":97,"p":"arrow"},{"x":132,"y":97,"x2":124,"y2":89,"p":"arrow"},{"x":132,"y":97,"x2":124,"y2":105,"p":"arrow"},
  {"x":199,"y":102,"x2":210,"y2":113,"p":"handle"},{"x":269,"y":102,"x2":280,"y2":113,"p":"handle"},
  {"x":253,"y":92,"x2":265,"y2":92,"p":"mark"},{"x":253,"y":88,"x2":253,"y2":96,"p":"mark"},{"x":265,"y":88,"x2":265,"y2":96,"p":"mark"},
  {"x":317,"y":79,"x2":324,"y2":79,"p":"corner"},{"x":318,"y":79,"x2":318,"y2":85,"p":"corner"},{"x":346,"y":79,"x2":353,"y2":79,"p":"corner"},{"x":352,"y":79,"x2":352,"y2":85,"p":"corner"},{"x":317,"y":114,"x2":324,"y2":114,"p":"corner"},{"x":318,"y":108,"x2":318,"y2":114,"p":"corner"},{"x":346,"y":114,"x2":353,"y2":114,"p":"corner"},{"x":352,"y":108,"x2":352,"y2":114,"p":"corner"},
  {"x":398,"y":81,"x2":398,"y2":113,"p":"beam"},{"x":411,"y":81,"x2":411,"y2":113,"p":"beam"},{"x":393,"y":81,"x2":403,"y2":81,"p":"beam"},{"x":406,"y":81,"x2":416,"y2":81,"p":"beam"},{"x":393,"y":113,"x2":403,"y2":113,"p":"beam"},{"x":406,"y":113,"x2":416,"y2":113,"p":"beam"},
  {"x":389,"y":100,"x2":398,"y2":92,"p":"wave"},{"x":398,"y":92,"x2":409,"y2":99,"p":"wave"},{"x":409,"y":99,"x2":425,"y2":90,"p":"wave"},
  {"x":18,"y":12.5,"x2":1076,"y2":12.5,"p":"frame"},{"x":11.5,"y":19,"x2":11.5,"y2":1331,"p":"frame"},{"x":11.5,"y":19,"x2":13,"y2":15,"p":"frame"},{"x":13,"y":15,"x2":18,"y2":12.5,"p":"frame"},
  {"x":1062,"y":1316,"x2":1076,"y2":1330,"p":"grip"}
  ]},
  "mark":{"type":"rule"},
  "encoding":{"x2":{"field":"x2"},"y2":{"field":"y2"},
   "color":{"field":"p","type":"nominal","scale":{"domain":["arrow","handle","mark","corner","beam","wave","frame","grip"],"range":["#ffffff","#8b919b","#2f4f9f","#4668e0","#5a5a5a","#4f78c8","#b9b9b9","#3fa3e0"]},"legend":null},
   "strokeWidth":{"field":"p","type":"nominal","scale":{"domain":["arrow","handle","mark","corner","beam","wave","frame","grip"],"range":[3.5,4.5,2,2.5,2,2,2.5,6]},"legend":null}}},
 {"data":{"values":[{"x":546,"y":35,"label":"IGBT, Diode"}]},"mark":{"type":"text","fontSize":31,"color":"#222222","align":"center","baseline":"middle","font":"Liberation Sans"},"encoding":{"text":{"field":"label","type":"nominal"}}}
 ]},
{"title":{"text":"Voltage & Current"},"width":944,"height":175,
 "layer":[
 {"data":{"name":"pulses"},"mark":{"type":"rule","color":"#10cc10","strokeWidth":2},
  "encoding":{"x":{"field":"a","type":"quantitative","scale":{"domain":[0.02,0.12],"nice":false},"axis":{"values":[0.02,0.04,0.06,0.08,0.1,0.12],"labels":false,"ticks":false,"title":null}},
   "y":{"field":"l","type":"quantitative","scale":{"domain":[-2000,2000],"nice":false},"axis":{"values":[-2000,0,2000],"title":null,"labelExpr":"''+datum.value"}},"y2":{"field":"h"}}},
 {"data":{"name":"pulses"},"mark":{"type":"rule","color":"#10cc10","strokeWidth":2},
  "encoding":{"x":{"field":"b","type":"quantitative"},"y":{"field":"l","type":"quantitative"},"y2":{"field":"h"}}},
 {"data":{"name":"pulses"},"mark":{"type":"rule","color":"#10cc10","strokeWidth":2},
  "encoding":{"x":{"field":"a","type":"quantitative"},"x2":{"field":"b"},"y":{"field":"h","type":"quantitative"}}},
 {"data":{"values":[{"a":0.0203,"b":0.12,"l":-750}]},"mark":{"type":"rule","color":"#10cc10","strokeWidth":2},
  "encoding":{"x":{"field":"a","type":"quantitative"},"x2":{"field":"b"},"y":{"field":"l","type":"quantitative"}}},
 {"data":{"name":"current"},"mark":{"type":"line","color":"#ff5050","strokeWidth":1.8,"interpolate":"monotone"},
  "encoding":{"x":{"field":"t","type":"quantitative"},"y":{"field":"v","type":"quantitative"}}}
 ]},
{"title":{"text":"IGBT1, D1 Current [A]"},"width":944,"height":174,
 "layer":[
 {"data":{"values":[{"a":0.02,"b":0.12,"z":0}]},"mark":{"type":"rule","color":"#00cc00","strokeWidth":1.5},
  "encoding":{"x":{"field":"a","type":"quantitative","scale":{"domain":[0.02,0.12],"nice":false},"axis":{"values":[0.02,0.04,0.06,0.08,0.1,0.12],"labels":false,"ticks":false,"title":null}},"x2":{"field":"b"},
   "y":{"field":"z","type":"quantitative","scale":{"domain":[-96,2000],"nice":false},"axis":{"values":[0,1000,2000],"title":null,"labelExpr":"''+datum.value"}}}},
 {"data":{"name":"pulses"},"mark":{"type":"rule","strokeWidth":2.2},
  "encoding":{"x":{"field":"a","type":"quantitative"},"y":{"field":"z","type":"quantitative"},"y2":{"field":"u"},
   "color":{"field":"s","type":"nominal","scale":{"domain":["I","D"],"range":["#10cc10","#2020f0"]},"legend":null}}},
 {"data":{"name":"pulses"},"mark":{"type":"rule","strokeWidth":2.2},
  "encoding":{"x":{"field":"b","type":"quantitative"},"y":{"field":"z","type":"quantitative"},"y2":{"field":"w"},
   "color":{"field":"s","type":"nominal","scale":{"domain":["I","D"],"range":["#10cc10","#2020f0"]},"legend":null}}},
 {"data":{"name":"pulses"},"mark":{"type":"rule","strokeWidth":2.2},
  "encoding":{"x":{"field":"a","type":"quantitative"},"x2":{"field":"b"},"y":{"field":"u","type":"quantitative"},"y2":{"field":"w"},
   "color":{"field":"s","type":"nominal","scale":{"domain":["I","D"],"range":["#10cc10","#2020f0"]},"legend":null}}},
 {"data":{"values":[{"a":0.02,"b":0.12,"z":0}]},"mark":{"type":"rule","color":"#3a3aee","strokeWidth":2.5},
  "encoding":{"x":{"field":"a","type":"quantitative"},"x2":{"field":"b"},"y":{"field":"z","type":"quantitative"}}}
 ]},
{"title":{"text":"IGBT1 Switching Loss, D1 Reverse Recovery Loss [W]"},"width":944,"height":175,
 "data":{"name":"switching"},
 "mark":{"type":"line","interpolate":"step-after","strokeWidth":2.2},
 "encoding":{"x":{"field":"t","type":"quantitative","scale":{"domain":[0.02,0.12],"nice":false},"axis":{"values":[0.02,0.04,0.06,0.08,0.1,0.12],"labels":false,"ticks":false,"title":null}},
  "y":{"field":"v","type":"quantitative","scale":{"domain":[-481,6000],"nice":false},"axis":{"values":[0,2000,4000,6000],"title":null,"labelExpr":"''+datum.value"}},
  "color":{"field":"s","type":"nominal","scale":{"domain":["I","D"],"range":["#22cc22","#3a3aee"]},"legend":null}}},
{"title":{"text":"IGBT1, D1 Conduction Loss [W]"},"width":944,"height":174,
 "data":{"name":"conduction"},
 "mark":{"type":"line","interpolate":"step-after","strokeWidth":2.2},
 "encoding":{"x":{"field":"t","type":"quantitative","scale":{"domain":[0.02,0.12],"nice":false},"axis":{"values":[0.02,0.04,0.06,0.08,0.1,0.12],"labels":false,"ticks":false,"title":null}},
  "y":{"field":"v","type":"quantitative","scale":{"domain":[-222,3000],"nice":false},"axis":{"values":[0,1000,2000,3000],"title":null,"labelExpr":"''+datum.value"}},
  "color":{"field":"s","type":"nominal","scale":{"domain":["I","D"],"range":["#22cc22","#3a3aee"]},"legend":null}}},
{"title":{"text":"IGBT1, D1 Junction Temp [C]"},"width":944,"height":176,
 "data":{"name":"temp"},
 "mark":{"type":"line","strokeWidth":1.9},
 "encoding":{"x":{"field":"t","type":"quantitative","scale":{"domain":[0.02,0.12],"nice":false},"axis":{"values":[0.02,0.04,0.06,0.08,0.1,0.12],"format":".2f","title":"Time (sec)","labelPadding":3,"titlePadding":8,"labelFlush":false}},
  "y":{"field":"v","type":"quantitative","scale":{"domain":[100,130],"nice":false},"axis":{"values":[100,110,120,130],"title":null}},
  "color":{"field":"s","type":"nominal","scale":{"domain":["I","D"],"range":["#30cc30","#4a4af0"]},"legend":null}}}
]
}
